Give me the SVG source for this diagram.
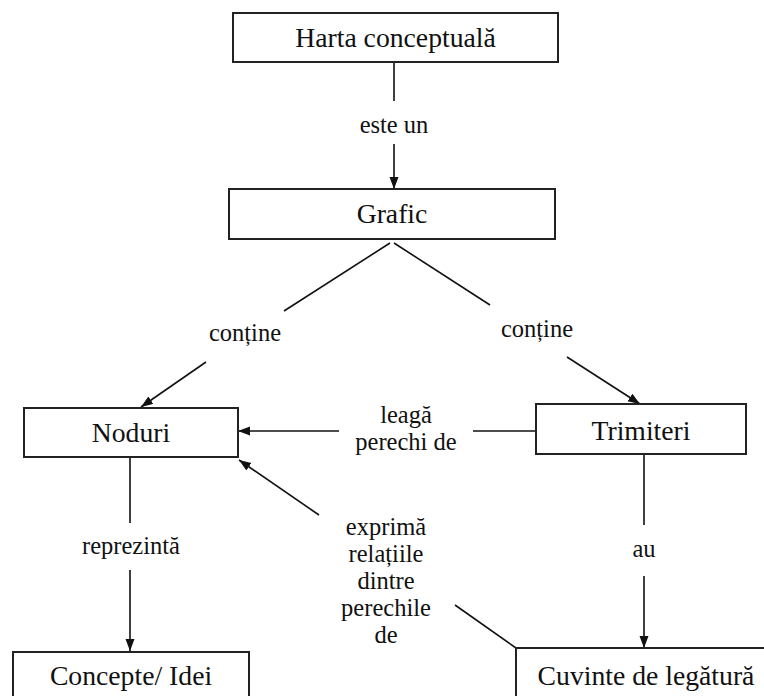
<svg xmlns="http://www.w3.org/2000/svg" width="764" height="696" viewBox="0 0 764 696">
<style>
.box{fill:#fff;stroke:#222;stroke-width:2}
text{font-family:'Liberation Serif','Times New Roman',Times,Tinos,'Noto Serif','DejaVu Serif','FreeSerif',serif;fill:#111;text-anchor:middle}
.nt{font-size:27.7px}
.lt{font-size:24.5px}
.ln{stroke:#111;stroke-width:1.6;fill:none}
.ar{stroke:#111;stroke-width:1.6;fill:none;marker-end:url(#ah)}
</style>
<defs>
<marker id="ah" markerUnits="userSpaceOnUse" markerWidth="13" markerHeight="10" refX="12" refY="4.5" orient="auto">
<path d="M0,0 L12,4.5 L0,9 z" fill="#111"/>
</marker>
</defs>
<rect width="764" height="696" fill="#fff"/>
<g id="connectors">
<line class="ln" x1="394" y1="62" x2="394" y2="101"/>
<line class="ar" x1="394" y1="144" x2="394" y2="189"/>
<line class="ln" x1="390" y1="243" x2="284" y2="311"/>
<line class="ar" x1="206" y1="362" x2="141" y2="407"/>
<line class="ln" x1="394" y1="243" x2="490" y2="305"/>
<line class="ar" x1="567" y1="357" x2="640" y2="404"/>
<line class="ln" x1="536" y1="431" x2="473" y2="431"/>
<line class="ar" x1="339" y1="431" x2="238" y2="431"/>
<line class="ln" x1="130" y1="458" x2="130" y2="523"/>
<line class="ar" x1="130" y1="570" x2="130" y2="651"/>
<line class="ln" x1="644" y1="454" x2="644" y2="525"/>
<line class="ar" x1="644" y1="576" x2="644" y2="648"/>
<line class="ln" x1="516" y1="648" x2="455" y2="605"/>
<line class="ar" x1="319" y1="515" x2="239" y2="460"/>
<text class="lt" x="394" y="133">este un</text>
<text class="lt" x="245" y="341">conține</text>
<text class="lt" x="537" y="337">conține</text>
<text class="lt" x="406" y="423">leagă</text>
<text class="lt" x="406" y="450">perechi de</text>
<text class="lt" x="131" y="554">reprezintă</text>
<text class="lt" x="644" y="557">au</text>
<text class="lt" x="386" y="535">exprimă</text>
<text class="lt" x="386" y="562">relațiile</text>
<text class="lt" x="386" y="589">dintre</text>
<text class="lt" x="386" y="616">perechile</text>
<text class="lt" x="386" y="643">de</text>
</g>
<g id="harta">
<rect class="box" x="233" y="13" width="325" height="49"/>
<text class="nt" x="395.5" y="47">Harta conceptuală</text>
</g>
<g id="grafic">
<rect class="box" x="229" y="189" width="326" height="50"/>
<text class="nt" x="392" y="223">Grafic</text>
</g>
<g id="noduri">
<rect class="box" x="24" y="408" width="214" height="49"/>
<text class="nt" x="131" y="442">Noduri</text>
</g>
<g id="trimiteri">
<rect class="box" x="536" y="404" width="210" height="50"/>
<text class="nt" x="641" y="440">Trimiteri</text>
</g>
<g id="concepte">
<rect class="box" x="13" y="652" width="236" height="60"/>
<text class="nt" x="131" y="685">Concepte/ Idei</text>
</g>
<g id="cuvinte">
<rect class="box" x="516" y="648" width="260" height="64"/>
<text class="nt" x="646" y="685">Cuvinte de legătură</text>
</g>
</svg>
